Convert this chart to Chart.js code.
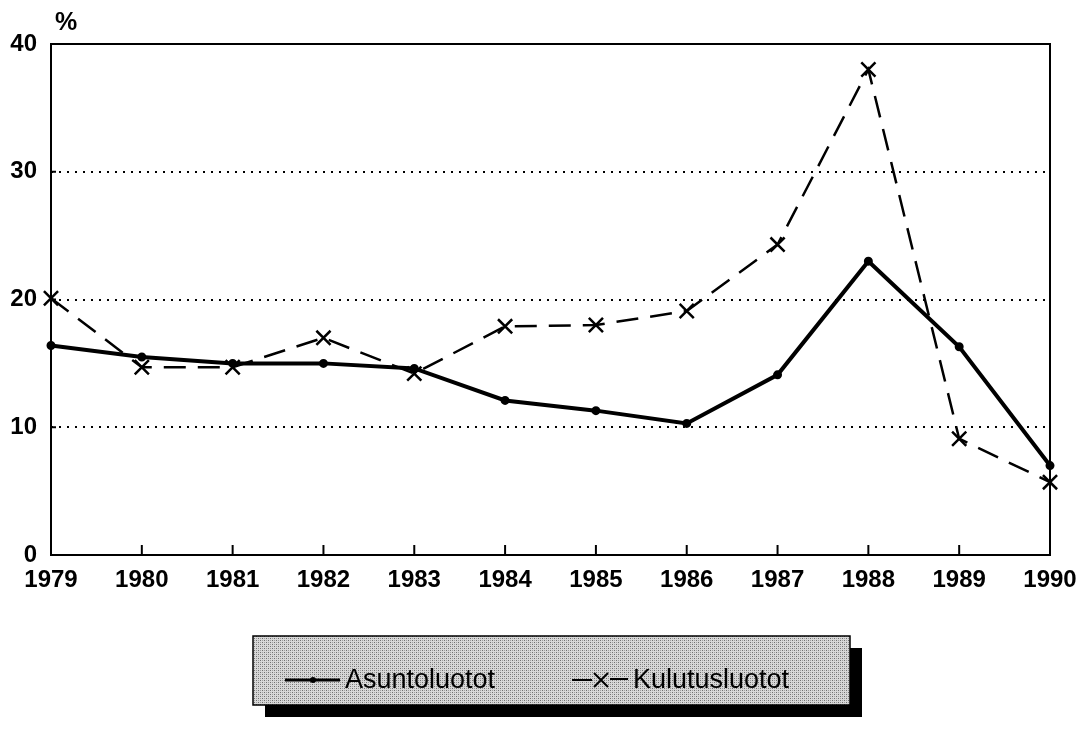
<!DOCTYPE html>
<html>
<head>
<meta charset="utf-8">
<script src="https://cdn.jsdelivr.net/npm/chart.js@4"></script>
<style>
  html, body { margin: 0; padding: 0; background: #fff; }
  #wrap { width: 1091px; height: 730px; }
</style>
</head>
<body>
<div id="wrap"><canvas id="chart" width="1091" height="730"></canvas></div>
<script>
// data
const years = ["1979", "1980", "1981", "1982", "1983", "1984", "1985", "1986", "1987", "1988", "1989", "1990"];
const asuntoluotot = [16.4, 15.5, 15.0, 15.0, 14.6, 12.1, 11.3, 10.3, 14.1, 23.0, 16.3, 7.0];
const kulutusluotot = [20.1, 14.7, 14.7, 17.0, 14.2, 17.9, 18.0, 19.1, 24.3, 38.0, 9.1, 5.7];
const yTicks = [0, 10, 20, 30, 40];
const unitLabel = "%";

const FONT = "'Liberation Sans', Arial, sans-serif";

// dithered grey used in the legend box
function makePattern(ctx) {
  const c = document.createElement("canvas");
  c.width = 4;
  c.height = 4;
  const p = c.getContext("2d");
  p.fillStyle = "#d8d8d8";
  p.fillRect(0, 0, 4, 4);
  p.fillStyle = "#707070";
  p.fillRect(0, 0, 1, 1);
  p.fillRect(2, 2, 1, 1);
  p.fillStyle = "#a0a0a0";
  p.fillRect(2, 0, 1, 1);
  p.fillRect(0, 2, 1, 1);
  return ctx.createPattern(c, "repeat");
}

const framePlugin = {
  id: "frame",
  afterDraw(chart) {
    const ctx = chart.ctx;
    const a = chart.chartArea;
    const xs = chart.scales.x;
    const ys = chart.scales.y;
    ctx.save();
    // plot box
    ctx.strokeStyle = "#000";
    ctx.lineWidth = 2;
    ctx.strokeRect(a.left, a.top, a.right - a.left, a.bottom - a.top);
    // inner tick marks
    years.forEach((y, i) => {
      const px = xs.getPixelForTick(i);
      ctx.beginPath();
      ctx.moveTo(px, a.bottom);
      ctx.lineTo(px, a.bottom - 10);
      ctx.stroke();
    });
    yTicks.forEach((v) => {
      const py = ys.getPixelForValue(v);
      ctx.beginPath();
      ctx.moveTo(a.left, py);
      ctx.lineTo(a.left + 5, py);
      ctx.stroke();
    });
    // unit
    ctx.fillStyle = "#000";
    ctx.font = "bold 25px " + FONT;
    ctx.textAlign = "left";
    ctx.textBaseline = "middle";
    ctx.fillText(unitLabel, 55, 23);

    // legend box with shadow
    const bx = 253, by = 636, bw = 597, bh = 69, sh = 12;
    ctx.fillStyle = "#000";
    ctx.fillRect(bx + sh, by + sh, bw, bh);
    ctx.fillStyle = makePattern(ctx);
    ctx.fillRect(bx, by, bw, bh);
    ctx.strokeStyle = "#000";
    ctx.lineWidth = 1.5;
    ctx.strokeRect(bx, by, bw, bh);

    const ly = 680;
    const ds = chart.data.datasets;
    // item 1: solid line with dot
    ctx.strokeStyle = "#000";
    ctx.lineWidth = 3;
    ctx.beginPath();
    ctx.moveTo(285, ly);
    ctx.lineTo(340, ly);
    ctx.stroke();
    ctx.beginPath();
    ctx.arc(313, ly, 3, 0, Math.PI * 2);
    ctx.fillStyle = "#000";
    ctx.fill();
    // item 2: dashed line with cross
    ctx.lineWidth = 2;
    ctx.beginPath();
    ctx.moveTo(572, ly);
    ctx.lineTo(592, ly);
    ctx.moveTo(610, ly - 1);
    ctx.lineTo(628, ly - 1);
    ctx.stroke();
    ctx.beginPath();
    ctx.moveTo(594, ly - 7);
    ctx.lineTo(608, ly + 7);
    ctx.moveTo(608, ly - 7);
    ctx.lineTo(594, ly + 7);
    ctx.stroke();

    ctx.font = "27px " + FONT;
    ctx.fillStyle = "#000";
    ctx.textBaseline = "middle";
    ctx.fillText(ds[0].label, 345, ly + 1);
    ctx.fillText(ds[1].label, 633, ly + 1);
    ctx.restore();
  }
};

const ctx = document.getElementById("chart").getContext("2d");

new Chart(ctx, {
  type: "line",
  data: {
    labels: years,
    datasets: [
      {
        label: "Asuntoluotot",
        data: asuntoluotot,
        borderColor: "#000",
        backgroundColor: "#000",
        borderWidth: 4,
        pointRadius: 2.5,
        pointStyle: "circle",
        tension: 0,
      },
      {
        label: "Kulutusluotot",
        data: kulutusluotot,
        borderColor: "#000",
        backgroundColor: "#000",
        borderWidth: 2.5,
        borderDash: [22, 12],
        pointStyle: "crossRot",
        pointRadius: 10,
        pointBorderWidth: 2.5,
        tension: 0,
      },
    ],
  },
  options: {
    responsive: false,
    animation: false,
    layout: { padding: { top: 44, right: 41, left: 0, bottom: 0 } },
    plugins: {
      legend: { display: false },
      tooltip: { enabled: false },
    },
    scales: {
      x: {
        offset: false,
        grid: { display: false, drawTicks: false },
        border: { display: false },
        ticks: {
          color: "#000",
          font: { family: FONT, size: 24, weight: "bold" },
          padding: 11,
          maxRotation: 0,
          autoSkip: false,
        },
        afterFit(scale) {
          scale.height = 175;
        },
      },
      y: {
        min: 0,
        max: 40,
        afterBuildTicks(scale) {
          scale.ticks = yTicks.map((v) => ({ value: v }));
        },
        grid: {
          drawTicks: false,
          lineWidth: 2,
          color: (c) =>
            c.tick && (c.tick.value === 0 || c.tick.value === 40) ? "rgba(0,0,0,0)" : "#000",
        },
        border: { display: false, dash: [2, 6] },
        ticks: {
          color: "#000",
          font: { family: FONT, size: 24, weight: "bold" },
          padding: 14,
        },
        afterFit(scale) {
          scale.width = 51;
        },
      },
    },
  },
  plugins: [framePlugin],
});
</script>
</body>
</html>
